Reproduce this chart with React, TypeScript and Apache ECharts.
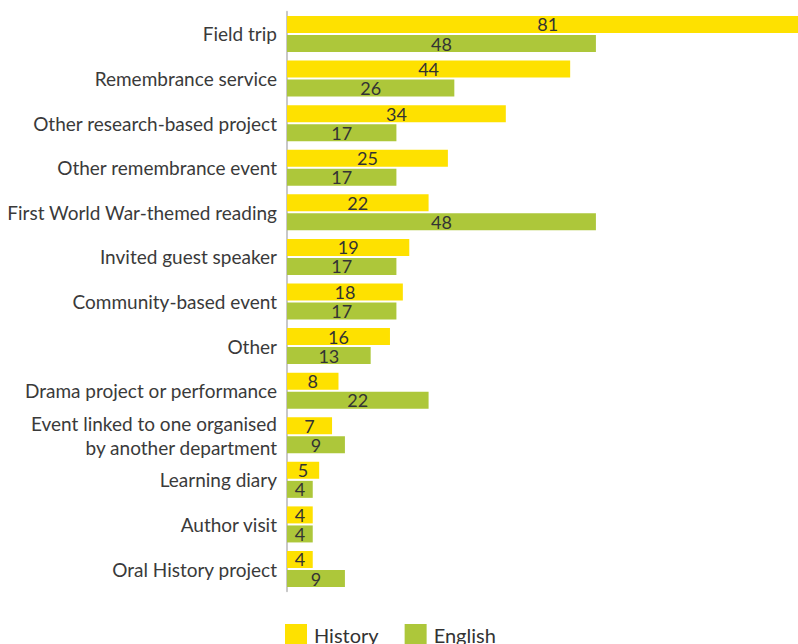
import React, { useEffect, useRef } from "react";
import * as echarts from "echarts";

const categories = [
  "Field trip",
  "Remembrance service",
  "Other research-based project",
  "Other remembrance event",
  "First World War-themed reading",
  "Invited guest speaker",
  "Community-based event",
  "Other",
  "Drama project or performance",
  "Event linked to one organised\nby another department",
  "Learning diary",
  "Author visit",
  "Oral History project",
];
const historyValues = [81, 44, 34, 25, 22, 19, 18, 16, 8, 7, 5, 4, 4];
const englishValues = [48, 26, 17, 17, 48, 17, 17, 13, 22, 9, 4, 4, 9];

const FONT = "Lato, 'Open Sans', sans-serif";

export default function App() {
  const ref = useRef<HTMLDivElement>(null);
  useEffect(() => {
    if (!ref.current) return;
    const chart = echarts.init(ref.current, undefined, { renderer: "svg" });
    const label = {
      show: true,
      position: "inside",
      color: "#333333",
      fontFamily: FONT,
      fontSize: 18,
    };
    chart.setOption({
      animation: false,
      textStyle: { fontFamily: FONT },
      grid: { left: 287, right: 0, top: 11.7, height: 579.6, containLabel: false },
      legend: {
        left: 280,
        top: 619,
        itemWidth: 22,
        itemHeight: 22,
        itemGap: 26,
        icon: "rect",
        textStyle: { fontFamily: FONT, fontSize: 20, color: "#333333", padding: [0, 0, 0, 2] },
        data: ["History", "English"],
      },
      xAxis: {
        type: "value",
        min: 0,
        max: 79.4,
        show: false,
        splitLine: { show: false },
      },
      yAxis: {
        type: "category",
        inverse: true,
        data: categories,
        axisTick: { show: false },
        axisLine: { show: true, lineStyle: { color: "#c8c8c8", width: 2 } },
        axisLabel: {
          fontFamily: FONT,
          fontSize: 19,
          color: "#3a3a3a",
          margin: 10,
          lineHeight: 24,
          align: "right",
        },
      },
      series: [
        {
          name: "History",
          type: "bar",
          data: historyValues,
          barWidth: 17,
          barGap: "12%",
          clip: false,
          itemStyle: { color: "#FEE100" },
          label,
        },
        {
          name: "English",
          type: "bar",
          data: englishValues,
          barWidth: 17,
          clip: false,
          itemStyle: { color: "#ADC73A" },
          label,
        },
      ],
    });
    return () => chart.dispose();
  }, []);
  return <div ref={ref} style={{ width: 798, height: 644, position: "absolute", left: 0, top: 0, overflow: "hidden" }} />;
}
